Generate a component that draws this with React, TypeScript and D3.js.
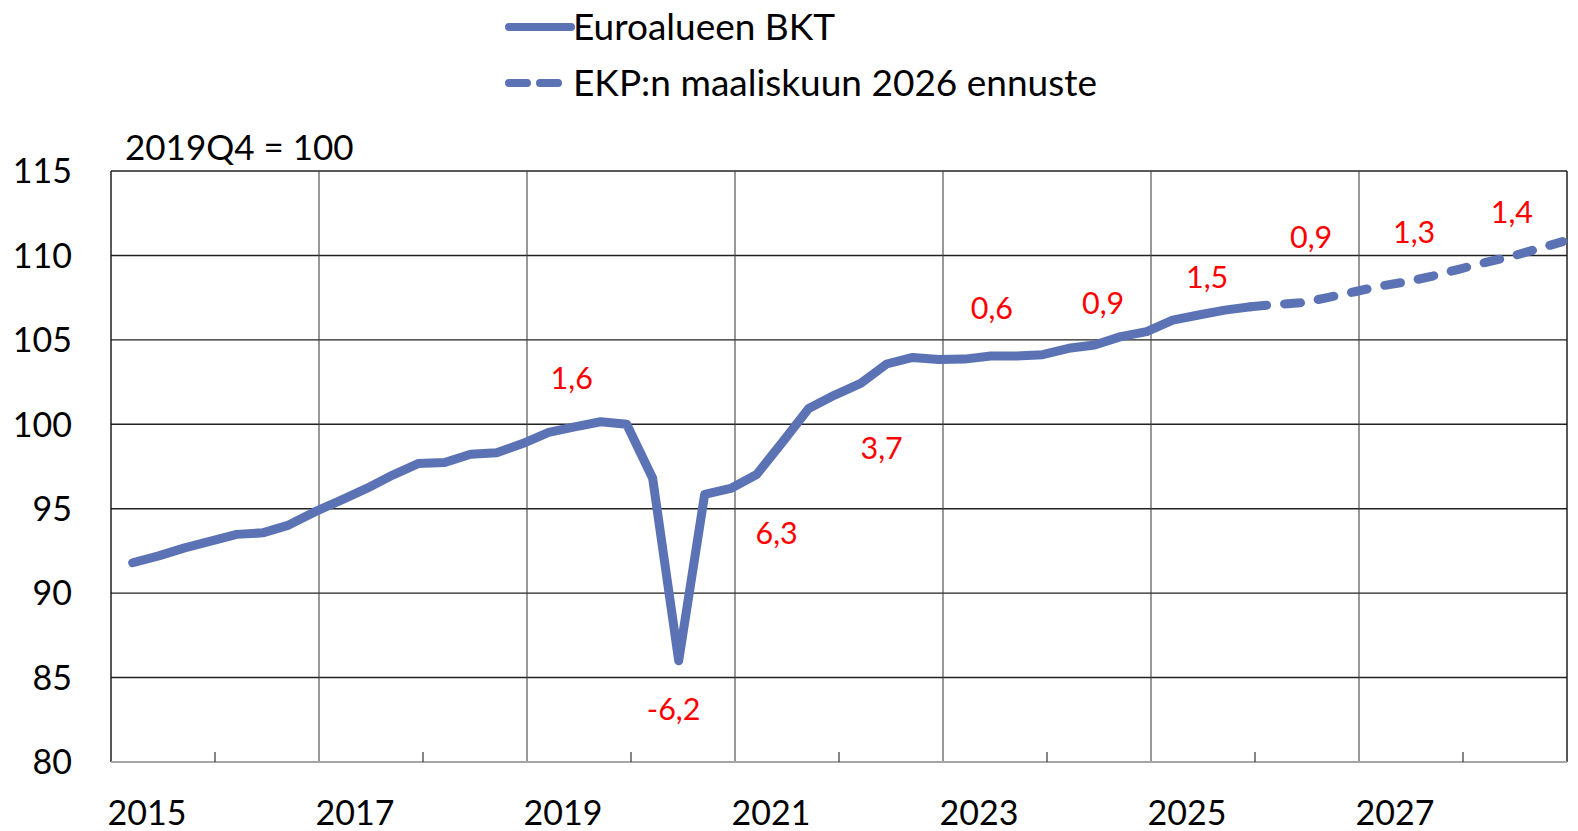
import React from "react";
import * as d3 from "d3";

const W = 1578;
const H = 831;

// Quarterly series, index 2019Q4 = 100
const startYear = 2015;
const actualValues = [
  91.8, 92.21, 92.68, 93.08,
  93.48, 93.57, 94.03, 94.81,
  95.5, 96.2, 96.99, 97.68,
  97.74, 98.23, 98.31, 98.86,
  99.52, 99.85, 100.15, 100.0,
  96.8, 86.0, 95.85, 96.2,
  97.03, 98.96, 100.94, 101.73,
  102.42, 103.57, 103.96, 103.84,
  103.86, 104.04, 104.04, 104.12,
  104.5, 104.7, 105.19, 105.49,
  106.17, 106.47, 106.76, 106.96,
];
// ECB projection, starting from last actual quarter (2025Q4)
const forecastStartIndex = 43;
const forecastValues = [
  106.96,
  107.1, 107.2, 107.52, 107.85,
  108.19, 108.44, 108.78, 109.18,
  109.57, 109.93, 110.37, 110.82,
];

const yTicks = [80, 85, 90, 95, 100, 105, 110, 115];
const xLabelYears = [2015, 2017, 2019, 2021, 2023, 2025, 2027];
const gridYears = [2017, 2019, 2021, 2023, 2025, 2027];
const minorTickYears = [2016, 2018, 2020, 2022, 2024, 2026, 2028];

const growthLabels = ["1,6", "-6,2", "6,3", "3,7", "0,6", "0,9", "1,5", "0,9", "1,3", "1,4"];
const growthYears = [2019.43, 2020.41, 2021.4, 2022.41, 2023.47, 2024.54, 2025.54, 2026.54, 2027.53, 2028.47];
const growthValues = [102.74, 83.13, 93.55, 98.59, 106.88, 107.18, 108.72, 111.09, 111.39, 112.57];

const legendLabels = ["Euroalueen BKT", "EKP:n maaliskuun 2026 ennuste"];
const baseLabel = "2019Q4 = 100";

const LINE = "#5b72b4";
const FONT = "Lato, 'Open Sans', sans-serif";

const quarterDate = (i: number) => startYear + Math.floor(i / 4) + ((i % 4) * 3 + 2.5) / 12;

export default function App() {
  const left = 111;
  const right = 1567;
  const top = 171;
  const bottom = 762;

  const x = d3.scaleLinear().domain([2015, 2029]).range([left, right]);
  const y = d3.scaleLinear().domain([80, 115]).range([bottom, top]);

  const line = d3
    .line<[number, number]>()
    .x((d) => x(d[0]))
    .y((d) => y(d[1]))
    .curve(d3.curveLinear);

  const actualPts: [number, number][] = actualValues.map((v, i) => [quarterDate(i), v]);
  const forecastPts: [number, number][] = forecastValues.map((v, i) => [quarterDate(forecastStartIndex + i), v]);

  const axisFont = 34;
  const labelFont = 30.5;
  const legendFont = 37;

  return (
    <svg
      width={W}
      height={H}
      style={{ position: "absolute", left: 0, top: 0, background: "#fff" }}
      fontFamily={FONT}
    >
      <rect x={0} y={0} width={W} height={H} fill="#fff" />

      {/* legend */}
      <g>
        <line x1={509} x2={571} y1={27} y2={27} stroke={LINE} strokeWidth={8} strokeLinecap="round" />
        <text x={573} y={27 + 0.36 * legendFont} fontSize={legendFont} fill="#000">
          {legendLabels[0]}
        </text>
        <line
          x1={509}
          x2={571}
          y1={83}
          y2={83}
          stroke={LINE}
          strokeWidth={8}
          strokeLinecap="round"
          strokeDasharray="18 13"
        />
        <text x={573} y={83 + 0.36 * legendFont} fontSize={legendFont} fill="#000">
          {legendLabels[1]}
        </text>
      </g>

      <text x={125} y={147 + 0.36 * 35} fontSize={35} fill="#000">
        {baseLabel}
      </text>

      {/* horizontal gridlines */}
      {yTicks.filter((t) => t !== 80).map((t) => (
        <line key={t} x1={left} x2={right} y1={y(t)} y2={y(t)} stroke="#222" strokeWidth={1.4} />
      ))}

      {/* vertical gridlines */}
      {gridYears.map((g) => (
        <line key={g} x1={x(g)} x2={x(g)} y1={top} y2={bottom} stroke="#444" strokeWidth={1.1} />
      ))}

      {/* plot borders */}
      <line x1={left} x2={left} y1={top} y2={bottom} stroke="#111" strokeWidth={1.4} />
      <line x1={right} x2={right} y1={top} y2={bottom} stroke="#111" strokeWidth={1.4} />

      {/* bottom axis */}
      <line x1={left} x2={right} y1={bottom} y2={bottom} stroke="#a6a6a6" strokeWidth={2} />
      {minorTickYears.map((m) => (
        <line key={m} x1={x(m)} x2={x(m)} y1={bottom} y2={bottom - 10} stroke="#333" strokeWidth={1.2} />
      ))}

      {/* y labels */}
      {yTicks.map((t) => (
        <text
          key={t}
          x={72}
          y={y(t) + 0.36 * axisFont}
          textAnchor="end"
          fontSize={axisFont}
          fill="#000"
        >
          {t}
        </text>
      ))}

      {/* x labels */}
      {xLabelYears.map((yr) => (
        <text key={yr} x={x(yr) + 36} y={bottom + 63} textAnchor="middle" fontSize={axisFont} fill="#000">
          {yr}
        </text>
      ))}

      {/* series */}
      <path
        d={line(actualPts) || ""}
        fill="none"
        stroke={LINE}
        strokeWidth={9}
        strokeLinejoin="round"
        strokeLinecap="round"
      />
      <path
        d={line(forecastPts) || ""}
        fill="none"
        stroke={LINE}
        strokeWidth={9}
        strokeLinejoin="round"
        strokeLinecap="round"
        strokeDasharray="16 18"
      />

      {/* growth labels */}
      {growthLabels.map((lab, i) => (
        <text
          key={i}
          x={x(growthYears[i])}
          y={y(growthValues[i]) + 0.36 * labelFont}
          textAnchor="middle"
          fontSize={labelFont}
          fill="#ff0000"
        >
          {lab}
        </text>
      ))}
    </svg>
  );
}
